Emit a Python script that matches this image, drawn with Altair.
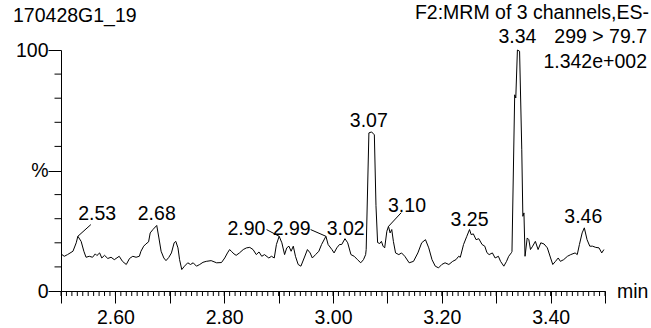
import altair as alt
import numpy as np
import pandas as pd

# MRM trace 299 > 79.7: retention time (min) and relative intensity (%)
rt = [
    2.500, 2.506, 2.512, 2.522, 2.528, 2.531, 2.537, 2.542, 2.546, 2.552,
    2.558, 2.563, 2.566, 2.571, 2.575, 2.580, 2.586, 2.592, 2.598, 2.607,
    2.613, 2.620, 2.626, 2.632, 2.638, 2.644, 2.647, 2.652, 2.656, 2.661,
    2.664, 2.669, 2.676, 2.680, 2.684, 2.689,
    2.693, 2.698, 2.703, 2.708, 2.711, 2.715, 2.718, 2.722, 2.727, 2.733,
    2.738, 2.743, 2.749, 2.755, 2.761, 2.767, 2.776, 2.786, 2.795, 2.801,
    2.806, 2.810, 2.813, 2.818, 2.822, 2.828, 2.835, 2.841, 2.847, 2.853,
    2.859, 2.864, 2.869, 2.874, 2.882, 2.887, 2.892,
    2.896, 2.901, 2.906, 2.911, 2.915, 2.919, 2.923, 2.927, 2.931, 2.936,
    2.941, 2.947, 2.953, 2.958, 2.962, 2.968, 2.974, 2.979, 2.987, 2.991,
    2.998, 3.002, 3.007, 3.012, 3.016, 3.022, 3.027, 3.033, 3.039, 3.045,
    3.051, 3.056, 3.060,
    3.061, 3.066, 3.071, 3.076, 3.079, 3.082, 3.086, 3.089, 3.092,
    3.095, 3.099, 3.102, 3.105, 3.108, 3.111, 3.115, 3.121, 3.126, 3.132,
    3.140, 3.148, 3.156, 3.163, 3.170, 3.176, 3.182, 3.188, 3.194, 3.200,
    3.206, 3.213, 3.220, 3.226, 3.231, 3.234, 3.240, 3.246, 3.251, 3.254,
    3.258, 3.263, 3.268, 3.274, 3.279,
    3.283, 3.287, 3.293, 3.298, 3.304, 3.308, 3.314, 3.319, 3.323, 3.328,
    3.329, 3.334, 3.336, 3.339, 3.343, 3.347, 3.349, 3.351, 3.353, 3.357,
    3.360, 3.363, 3.367, 3.372, 3.377, 3.382, 3.388, 3.394, 3.400, 3.404,
    3.409, 3.414, 3.418, 3.424, 3.431, 3.437, 3.445, 3.449, 3.453, 3.458,
    3.462, 3.467, 3.472, 3.477, 3.483, 3.489, 3.494, 3.498,
]
intensity = [
    15.4, 14.4, 15.1, 16.5, 20.0, 22.7, 20.6, 16.5, 14.0, 14.4,
    14.0, 15.4, 14.7, 15.8, 13.7, 14.8, 13.5, 14.0, 13.0, 14.4,
    12.3, 11.0, 13.5, 14.4, 14.0, 14.4, 16.5, 18.6, 19.5, 20.4,
    24.1, 25.5, 27.2, 22.0, 16.5, 13.7,
    12.6, 13.9, 15.8, 20.0, 20.6, 17.9, 13.0, 8.9, 10.3, 11.7,
    11.0, 11.7, 10.3, 11.0, 11.9, 12.3, 12.6, 11.7, 11.8, 13.7,
    15.8, 17.2, 16.5, 15.4, 14.8, 15.8, 17.2, 17.9, 18.1, 17.2,
    15.1, 16.2, 14.4, 15.1, 13.7, 14.4, 13.7,
    19.3, 22.7, 20.0, 15.1, 17.9, 18.6, 16.5, 18.6, 14.4, 11.0,
    10.3, 13.7, 17.2, 15.8, 13.7, 15.1, 16.5, 19.3, 22.7, 19.3,
    17.2, 15.8, 17.9, 19.3, 19.3, 21.7, 20.0, 15.1, 14.4, 13.0,
    11.7, 13.0, 15.1,
    17.2, 65.6, 66.0, 64.8, 35.4, 20.1, 19.7, 20.6, 18.6,
    17.9, 24.8, 26.8, 24.1, 25.5, 20.6, 15.8, 15.1, 15.8, 14.4,
    11.7, 12.3, 15.8, 20.0, 21.3, 17.9, 13.0, 10.3, 9.6, 11.0,
    11.7, 11.0, 12.3, 13.0, 14.4, 14.0, 19.3, 22.7, 25.5, 23.4,
    23.7, 21.3, 21.7, 19.3, 18.6,
    15.9, 15.1, 15.8, 13.7, 14.4, 12.3, 10.3, 12.3, 14.4, 15.9,
    16.4, 81.4, 80.1, 100.0, 99.5, 58.6, 31.0, 32.4, 14.4, 22.0,
    21.3, 17.2, 18.6, 20.6, 17.2, 20.0, 19.5, 17.9, 13.7, 11.0,
    12.3, 13.7, 12.3, 13.0, 14.4, 15.1, 15.8, 15.1, 19.3, 24.1,
    26.2, 21.3, 18.6, 18.6, 18.1, 17.9, 15.8, 17.2,
]

# Annotated peaks (apex retention times)
peak_labels = ["2.53", "2.68", "2.90", "2.99", "3.02", "3.07", "3.10", "3.25", "3.34", "3.46"]
peak_rt = [2.531, 2.676, 2.901, 2.987, 3.022, 3.071, 3.102, 3.251, 3.339, 3.462]

x_tick_labels = ["2.60", "2.80", "3.00", "3.20", "3.40"]

sample_name = "170428G1_19"
function_line = "F2:MRM of 3 channels,ES-"
transition = "299 > 79.7"
max_intensity = "1.342e+002"

W, H = 544, 241
FONT = "Liberation Sans"
FS = 19.5

px_per_min = W / 1.0
px_per_pct = H / 100.0

# label placement in pixels relative to the apex: (dx of label centre, dy of baseline, leader start)
placement = {
    "2.53": (19.3, -16.7, (13.0, -11.7)),
    "2.68": (0.0, -5.7, None),
    "2.90": (-32.8, -1.7, (-12.6, -6.7)),
    "2.99": (-34.3, -1.7, (-15.3, -6.7)),
    "3.02": (0.7, -4.0, None),
    "3.07": (-2.8, -5.0, None),
    "3.10": (18.5, -14.7, (12.7, -13.7)),
    "3.25": (0.0, -3.3, None),
    "3.34": (0.0, -7.0, None),
    "3.46": (-1.0, -5.0, None),
}

trace = pd.DataFrame({"rt": rt, "pct": intensity})
rt_arr = np.array(rt)

label_rows, leader_rows = [], []
for lab, t in zip(peak_labels, peak_rt):
    i = int(np.argmin(np.abs(rt_arr - t)))
    ax, ay = rt[i], intensity[i]
    dx, dy, lead = placement[lab]
    label_rows.append({"label": lab, "lx": ax + dx / px_per_min, "ly": ay - dy / px_per_pct})
    if lead is not None:
        leader_rows.append({
            "x1": ax + lead[0] / px_per_min, "y1": ay - lead[1] / px_per_pct,
            "x2": ax, "y2": ay,
        })
labels_df = pd.DataFrame(label_rows)
leaders_df = pd.DataFrame(leader_rows)

major_x = [round(2.5 + 0.1 * k, 2) for k in range(11)]
minor_x = pd.DataFrame({"v": [round(2.5 + 0.01 * k, 3) for k in range(101)]})
minor_y = pd.DataFrame({"v": [10, 20, 30, 40, 60, 70, 80, 90]})

x_scale = alt.Scale(domain=[2.5, 3.5], nice=False, zero=False)
y_scale = alt.Scale(domain=[0, 100], nice=False, zero=False)

shown = "[" + ",".join(f"'{s}'" for s in x_tick_labels) + "]"
x_axis = alt.Axis(
    values=major_x, tickSize=12, title=None, grid=False,
    labelExpr=f"indexof({shown}, format(datum.value, '.2f')) >= 0 ? format(datum.value, '.2f') : ''",
    labelBaseline="alphabetic", labelPadding=20, labelOverlap=False, labelFlush=False,
    labelFont=FONT, labelFontSize=FS, labelColor="black",
    domainColor="black", tickColor="black", domainWidth=1, tickWidth=1,
)
y_axis = alt.Axis(
    values=[0, 50, 100], tickSize=13, title=None, grid=False,
    labelExpr="datum.value == 50 ? '%' : datum.label",
    labelPadding=0, labelOverlap=False, labelFlush=False,
    labelFont=FONT, labelFontSize=FS, labelColor="black",
    domainColor="black", tickColor="black", domainWidth=1, tickWidth=1,
)

line = alt.Chart(trace).mark_line(color="black", strokeWidth=1).encode(
    x=alt.X("rt:Q", scale=x_scale, axis=x_axis),
    y=alt.Y("pct:Q", scale=y_scale, axis=y_axis),
)

x_minor = alt.Chart(minor_x).mark_rule(color="black", strokeWidth=1).encode(
    x=alt.X("v:Q", title=None), y=alt.value(H), y2=alt.value(H + 5),
)
y_minor = alt.Chart(minor_y).mark_rule(color="black", strokeWidth=1).encode(
    y=alt.Y("v:Q", title=None), x=alt.value(0), x2=alt.value(-6.5),
)

peak_text = alt.Chart(labels_df).mark_text(
    font=FONT, fontSize=FS, color="black", align="center", baseline="alphabetic"
).encode(x=alt.X("lx:Q", title=None), y=alt.Y("ly:Q", title=None), text="label:N")

leaders = alt.Chart(leaders_df).mark_rule(color="black", strokeWidth=1).encode(
    x=alt.X("x1:Q", title=None), y=alt.Y("y1:Q", title=None), x2="x2:Q", y2="y2:Q",
)


def header(text, x, y, align):
    return alt.Chart(pd.DataFrame({"t": [text]})).mark_text(
        font=FONT, fontSize=FS, color="black", align=align, baseline="alphabetic"
    ).encode(text="t:N", x=alt.value(x), y=alt.value(y))


headers = [
    header(sample_name, -48, -28, "left"),
    header(function_line, 588, -31, "right"),
    header(transition, 586, -7, "right"),
    header(max_intensity, 586, 18, "right"),
    header("min", 556, H + 7, "left"),
]

chart = alt.layer(line, x_minor, y_minor, leaders, peak_text, *headers).properties(
    width=W, height=H,
    padding={"left": 61, "top": 50, "right": 46, "bottom": 37},
    autosize=alt.AutoSizeParams(type="none"),
    background="white",
).configure_view(stroke=None)

chart.save("out.html", embed_options={"renderer": "svg", "actions": False})
